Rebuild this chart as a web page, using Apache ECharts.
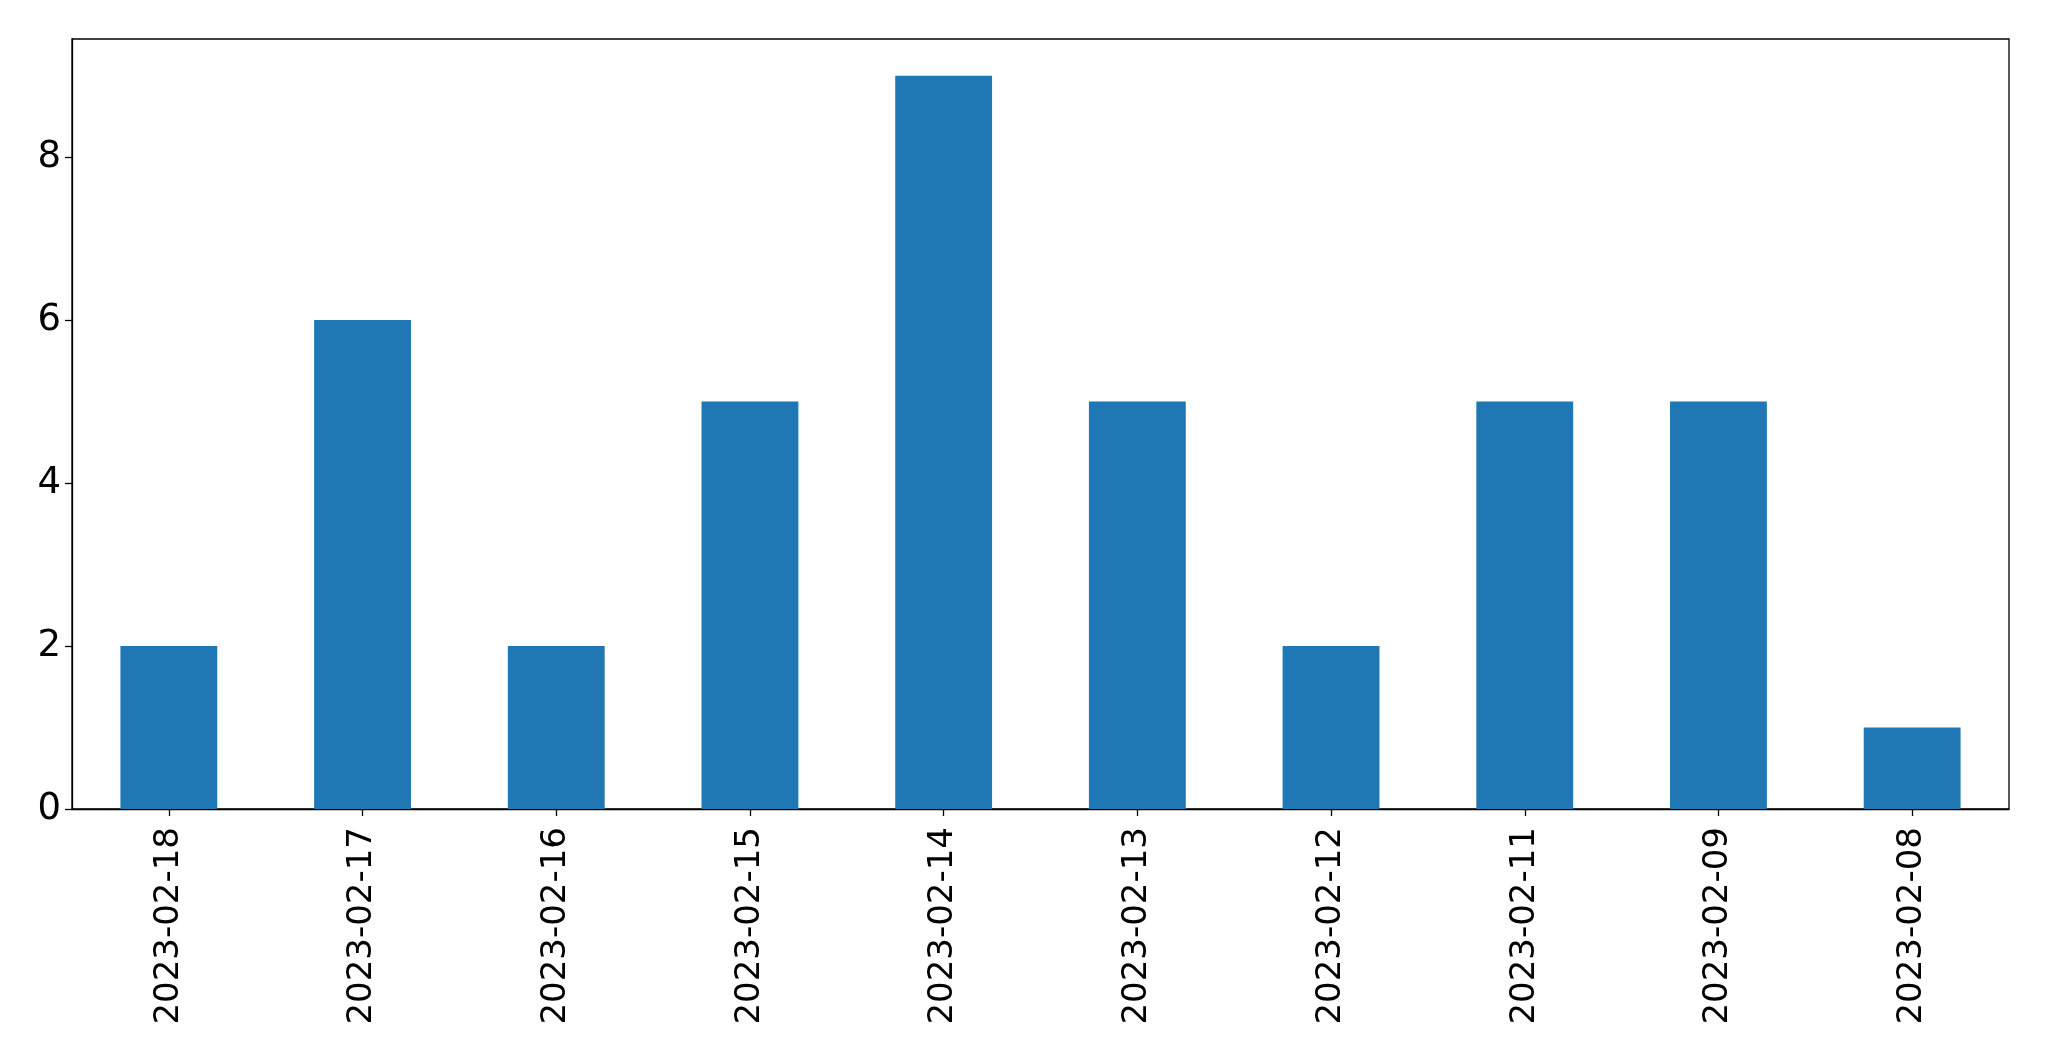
<!DOCTYPE html>
<html>
<head>
<meta charset="utf-8">
<script src="https://cdn.jsdelivr.net/npm/echarts@6/dist/echarts.min.js"></script>
<style>
html,body{margin:0;padding:0;background:#fff;}
#chart{width:2049px;height:1061px;}
</style>
</head>
<body>
<div id="chart"></div>
<script>
const categories = ["2023-02-18","2023-02-17","2023-02-16","2023-02-15","2023-02-14","2023-02-13","2023-02-12","2023-02-11","2023-02-09","2023-02-08"];
const counts = [2, 6, 2, 5, 9, 5, 2, 5, 5, 1];
const yTicks = [0, 2, 4, 6, 8];

const chart = echarts.init(document.getElementById('chart'), null, {renderer: 'canvas'});
const font = 'DejaVu Sans';
chart.setOption({
  animation: false,
  backgroundColor: '#ffffff',
  grid: {
    left: 72, top: 39, width: 1937, height: 770,
    show: true, borderColor: '#000', borderWidth: 1.3, backgroundColor: 'transparent'
  },
  xAxis: {
    type: 'category',
    data: categories,
    boundaryGap: true,
    axisLine: {show: true, lineStyle: {color: '#000', width: 1.3}},
    axisTick: {show: true, alignWithLabel: true, length: 7, lineStyle: {color: '#000', width: 1.3}},
    axisLabel: {rotate: 90, margin: 18, color: '#000', fontSize: 34, fontFamily: font, interval: 0},
    splitLine: {show: false}
  },
  yAxis: {
    type: 'value',
    min: 0, max: 9.45,
    axisLine: {show: true, lineStyle: {color: '#000', width: 1.3}},
    axisTick: {show: true, length: 7, lineStyle: {color: '#000', width: 1.3}, customValues: yTicks},
    axisLabel: {margin: 11, color: '#000', fontSize: 37, fontFamily: font, customValues: yTicks},
    splitLine: {show: false}
  },
  series: [{
    type: 'bar',
    data: counts,
    barWidth: '50%',
    itemStyle: {color: '#1f77b4'}
  }]
});
</script>
</body>
</html>
